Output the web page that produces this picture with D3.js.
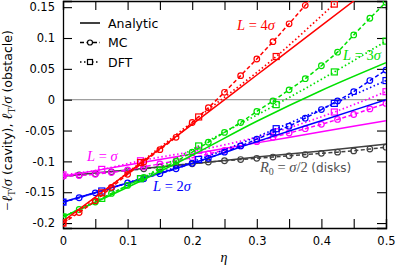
<!DOCTYPE html>
<html>
<head>
<meta charset="utf-8">
<script src="https://cdn.jsdelivr.net/npm/d3@7"></script>
<style>
  body { margin: 0; background: #fff; }
  svg { display: block; }
  .tick text { font-family: "DejaVu Sans", sans-serif; font-size: 11.5px; fill: #000; }
</style>
</head>
<body>
<div id="chart"></div>
<script>
// tick values
var xTicks = [0, 0.05, 0.1, 0.15, 0.2, 0.25, 0.3, 0.35, 0.4, 0.45, 0.5];
var yTicks = [-0.2, -0.15, -0.1, -0.05, 0, 0.05, 0.1, 0.15];
var xLabels = ["0", "0.1", "0.2", "0.3", "0.4", "0.5"];

// MC grid (eta)
var etaMC = [0, 0.025, 0.05, 0.075, 0.1, 0.125, 0.15, 0.175, 0.2, 0.225, 0.25,
             0.275, 0.3, 0.325, 0.35, 0.375, 0.4, 0.425, 0.45, 0.475, 0.5];
// analytic grid
var etaAn = [0, 0.1, 0.2, 0.3, 0.4, 0.5];
// DFT grid
var etaDFT = [0, 0.06, 0.12, 0.21, 0.33, 0.42, 0.5];

// L = 4 sigma (red)
var an4 = [-0.197, -0.119, -0.040, 0.040, 0.120, 0.200];
var mc4 = [-0.200, -0.183, -0.164, -0.142, -0.121, -0.101, -0.081, -0.061, -0.037, -0.013, 0.012,
           0.039, 0.066, 0.094, 0.123, 0.153, 0.185, 0.22, 0.26, 0.30, 0.34];
var dft4 = [-0.200, -0.151, -0.102, -0.028, 0.070, 0.155, 0.23];

// L = 3 sigma (green)
var an3 = [-0.190, -0.142, -0.090, -0.035, 0.015, 0.060];
var mc3 = [-0.190, -0.178, -0.166, -0.152, -0.139, -0.126, -0.113, -0.100, -0.085, -0.069, -0.053,
           -0.037, -0.019, -0.002, 0.016, 0.034, 0.055, 0.077, 0.105, 0.132, 0.158];
var dft3 = [-0.190, -0.160, -0.128, -0.075, -0.008, 0.045, 0.095];

// L = 2 sigma (blue)
var an2 = [-0.166, -0.135, -0.103, -0.068, -0.034, 0.000];
var mc2 = [-0.166, -0.159, -0.151, -0.143, -0.135, -0.128, -0.120, -0.112, -0.103, -0.095, -0.085,
           -0.075, -0.064, -0.053, -0.043, -0.030, -0.016, -0.002, 0.013, 0.031, 0.048];
var dft2 = [-0.166, -0.148, -0.128, -0.097, -0.047, -0.006, 0.031];

// L = sigma (magenta)
var an1 = [-0.124, -0.106, -0.088, -0.070, -0.052, -0.034];
var mc1 = [-0.124, -0.123, -0.121, -0.118, -0.114, -0.109, -0.104, -0.099, -0.094, -0.088, -0.082,
           -0.075, -0.068, -0.061, -0.054, -0.047, -0.040, -0.032, -0.024, -0.015, -0.006];
var dft1 = [-0.122, -0.113, -0.099, -0.082, -0.052, -0.020, 0.013];

// R0 = sigma/2, disks (grey)
var anD = [-0.124, -0.114, -0.104, -0.093, -0.083, -0.072];
var mcD = [-0.124, -0.122, -0.120, -0.117, -0.115, -0.112, -0.109, -0.106, -0.104, -0.101, -0.099,
           -0.097, -0.095, -0.093, -0.091, -0.089, -0.087, -0.085, -0.083, -0.080, -0.077];

var series = [
  { color: "#404040", an: anD, mc: mcD, dft: null },
  { color: "#ff00ff", an: an1, mc: mc1, dft: dft1 },
  { color: "#0000ff", an: an2, mc: mc2, dft: dft2 },
  { color: "#00e000", an: an3, mc: mc3, dft: dft3 },
  { color: "#ff0000", an: an4, mc: mc4, dft: dft4 }
];

var W = 396, H = 267;
var mLeft = 63, mRight = 386, mTop = 1, mBottom = 228;

var x = d3.scaleLinear().domain([0, 0.5]).range([mLeft, mRight]);
var y = d3.scaleLinear().domain([-0.208, 0.16]).range([mBottom, mTop]);

var svg = d3.select("#chart").append("svg")
    .attr("width", W)
    .attr("height", H);

svg.append("defs").append("clipPath").attr("id", "clip")
  .append("rect")
    .attr("x", mLeft).attr("y", mTop)
    .attr("width", mRight - mLeft).attr("height", mBottom - mTop);

// zero line
svg.append("line")
    .attr("x1", mLeft).attr("x2", mRight)
    .attr("y1", y(0)).attr("y2", y(0))
    .attr("stroke", "#a0a0a0")
    .attr("stroke-width", 1.2);

var tickLen = 9;
var fmtX = function(d) { var s = d3.format(".2~f")(d); return xLabels.indexOf(s) >= 0 ? s : ""; };
var fmtY = function(d) { return d3.format(".2~f")(d).replace("\u2212", "-"); };

svg.append("g")
    .attr("transform", "translate(0," + mBottom + ")")
    .call(d3.axisBottom(x).tickValues(xTicks).tickSize(-tickLen).tickPadding(9).tickFormat(fmtX));
svg.append("g")
    .attr("transform", "translate(0," + mTop + ")")
    .call(d3.axisTop(x).tickValues(xTicks).tickSize(-tickLen).tickFormat(""));
svg.append("g")
    .attr("transform", "translate(" + mLeft + ",0)")
    .call(d3.axisLeft(y).tickValues(yTicks).tickSize(-tickLen).tickPadding(8).tickFormat(fmtY));
svg.append("g")
    .attr("transform", "translate(" + mRight + ",0)")
    .call(d3.axisRight(y).tickValues(yTicks).tickSize(-tickLen).tickFormat(""));

svg.selectAll(".domain").attr("stroke", "#000").attr("stroke-width", 1.3);
svg.selectAll(".tick line").attr("stroke", "#000").attr("stroke-width", 1.1);

var plot = svg.append("g").attr("clip-path", "url(#clip)");

var line = d3.line()
    .x(function(d) { return x(d[0]); })
    .y(function(d) { return y(d[1]); });

var smooth = d3.line()
    .x(function(d) { return x(d[0]); })
    .y(function(d) { return y(d[1]); })
    .curve(d3.curveMonotoneX);

function pairs(etas, vals) { return etas.map(function(e, i) { return [e, vals[i]]; }); }

series.forEach(function(s) {
  var g = plot.append("g");
  // analytic
  g.append("path")
      .attr("d", smooth(pairs(etaAn, s.an)))
      .attr("fill", "none")
      .attr("stroke", s.color)
      .attr("stroke-width", 1.5);
  // DFT
  if (s.dft) {
    var pd = pairs(etaDFT, s.dft);
    g.append("path")
        .attr("d", smooth(pd))
        .attr("fill", "none")
        .attr("stroke", s.color)
        .attr("stroke-width", 1.7)
        .attr("stroke-dasharray", "1.5,2.5");
    g.selectAll(".sq").data(pd).enter().append("rect")
        .attr("x", function(d) { return x(d[0]) - 3; })
        .attr("y", function(d) { return y(d[1]) - 3; })
        .attr("width", 6).attr("height", 6)
        .attr("fill", "none")
        .attr("stroke", s.color)
        .attr("stroke-width", 1.2);
  }
  // MC
  var pm = pairs(etaMC, s.mc);
  g.append("path")
      .attr("d", line(pm))
      .attr("fill", "none")
      .attr("stroke", s.color)
      .attr("stroke-width", 1.5)
      .attr("stroke-dasharray", "4,2.5");
  g.selectAll(".ci").data(pm).enter().append("circle")
      .attr("cx", function(d) { return x(d[0]); })
      .attr("cy", function(d) { return y(d[1]); })
      .attr("r", 2.8)
      .attr("fill", "none")
      .attr("stroke", s.color)
      .attr("stroke-width", 1.2);
});

// legend
var leg = svg.append("g").attr("font-family", "DejaVu Sans, sans-serif").attr("font-size", 12.5);
var legItems = [
  { label: "Analytic", dash: null, mark: null },
  { label: "MC", dash: "4,2.5", mark: "circle" },
  { label: "DFT", dash: "1.5,2.5", mark: "square" }
];
legItems.forEach(function(d, i) {
  var ly = 23 + i * 19.5;
  leg.append("line")
      .attr("x1", 80).attr("x2", 100).attr("y1", ly).attr("y2", ly)
      .attr("stroke", "#000").attr("stroke-width", 1.5)
      .attr("stroke-dasharray", d.dash);
  if (d.mark === "circle") {
    leg.append("circle").attr("cx", 90).attr("cy", ly).attr("r", 2.5)
        .attr("fill", "#fff").attr("stroke", "#000").attr("stroke-width", 1.2);
  } else if (d.mark === "square") {
    leg.append("rect").attr("x", 87.5).attr("y", ly - 2.5).attr("width", 5).attr("height", 5)
        .attr("fill", "#fff").attr("stroke", "#000").attr("stroke-width", 1.2);
  }
  leg.append("text").attr("x", 108).attr("y", ly + 4.5).text(d.label);
});

// curve labels
function mathLabel(xp, yp, color, parts) {
  var t = svg.append("text")
      .attr("x", xp).attr("y", yp)
      .attr("fill", color)
      .attr("font-family", "Liberation Serif, DejaVu Serif, serif")
      .attr("font-size", 14.5);
  parts.forEach(function(p) {
    var ts = t.append("tspan").text(p.t);
    if (p.i) ts.attr("font-style", "italic");
    if (p.sans) ts.attr("font-family", "DejaVu Sans, sans-serif").attr("font-size", 12);
    if (p.sub) ts.attr("font-size", 10).attr("dy", 3);
    if (p.up) ts.attr("dy", -3);
  });
  return t;
}
mathLabel(237, 30, "#ff0000", [{ t: "L", i: 1 }, { t: " = 4" }, { t: "\u03c3", i: 1 }]);
mathLabel(343, 60, "#00e000", [{ t: "L", i: 1 }, { t: " = 3" }, { t: "\u03c3", i: 1 }]);
mathLabel(87, 161, "#ff00ff", [{ t: "L", i: 1 }, { t: " = " }, { t: "\u03c3", i: 1 }]);
mathLabel(153, 191, "#0000ff", [{ t: "L", i: 1 }, { t: " = 2" }, { t: "\u03c3", i: 1 }]);
mathLabel(260, 172, "#505050", [{ t: "R", i: 1 }, { t: "0", sub: 1 }, { t: " = ", up: 1 }, { t: "\u03c3", i: 1 }, { t: "/2 " },
  { t: "(disks)", sans: 1 }]);

// axis titles
svg.append("text")
    .attr("x", 224).attr("y", 262)
    .attr("text-anchor", "middle")
    .attr("font-family", "Liberation Serif, serif")
    .attr("font-style", "italic")
    .attr("font-size", 14)
    .text("\u03b7");

var yl = svg.append("text")
    .attr("transform", "translate(12,121) rotate(-90)")
    .attr("text-anchor", "middle")
    .attr("font-family", "Liberation Serif, serif")
    .attr("font-size", 14.5);
yl.append("tspan").text("\u2212\u2113").attr("font-style", "italic");
yl.append("tspan").text("T").attr("font-size", 9.5).attr("dy", 3);
yl.append("tspan").text("/").attr("dy", -3);
yl.append("tspan").text("\u03c3").attr("font-style", "italic");
yl.append("tspan").text(" (cavity),  ").attr("font-family", "DejaVu Sans, sans-serif").attr("font-size", 12.5);
yl.append("tspan").text("\u2113").attr("font-style", "italic");
yl.append("tspan").text("T").attr("font-size", 9.5).attr("dy", 3);
yl.append("tspan").text("/").attr("dy", -3);
yl.append("tspan").text("\u03c3").attr("font-style", "italic");
yl.append("tspan").text(" (obstacle)").attr("font-family", "DejaVu Sans, sans-serif").attr("font-size", 12.5);
</script>
</body>
</html>
